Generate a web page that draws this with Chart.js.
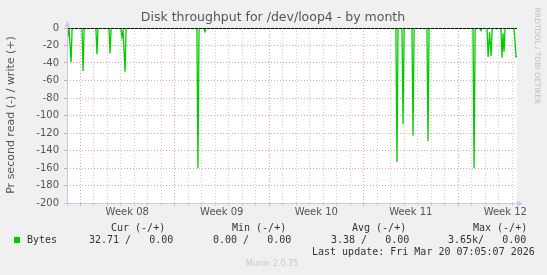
<!DOCTYPE HTML>
<html>
<head>
    <script src="https://cdn.jsdelivr.net/npm/chart.js"></script>
</head>
<body>
<style>
    * {
        margin: 0;
        padding: 0;
        box-sizing: border-box;
    }
    body {
        background: #F0F0F0;
    }
    .chart {
        width: 547px;
        height: 275px;
    }
</style>
<div class="chart">
    <canvas id="myChart" width="547" height="275"></canvas>
</div>
<script>
    // read rate (negative = read) sampled along the month, x in days from the left edge
    const sampleDays = [0, 0.07, 0.15, 0.30, 0.38, 1.11, 1.19, 1.27, 2.14, 2.22, 2.30, 3.11, 3.19, 3.27,
        3.99, 4.07, 4.15, 4.30, 4.38, 9.62, 9.70, 9.78, 10.14, 10.22, 10.30, 24.36, 24.44, 24.52,
        24.81, 24.89, 24.97, 25.55, 25.63, 25.71, 26.66, 26.74, 26.82, 30.07, 30.15, 30.23,
        30.59, 30.67, 30.75, 31.11, 31.19, 31.30, 31.41, 31.49, 31.77, 31.85, 31.93,
        32.14, 32.22, 32.30, 32.37, 32.45, 33.11, 33.26, 33.33];
    const readValues = [-3, -10, 0, -39, 0, 0, -49, 0, 0, -30, 0, 0, -29, 0,
        0, -10, -3, -50, 0, 0, -160, 0, 0, -4, 0, 0, -153, 0,
        0, -110, 0, 0, -123, 0, 0, -129, 0, 0, -160, 0,
        0, -3, 0, 0, -33, -5, -32, 0, 0, -1, 0,
        0, -34, -6, -27, 0, 0, -33, -32.71];
    const writeValues = sampleDays.map(() => 0);

    const weekLabels = ['Week 08', 'Week 09', 'Week 10', 'Week 11', 'Week 12'];
    const firstWeekStart = 0.963;   // day where Week 08 begins
    const monthSpan = 33.33;

    const statHeaders = ['Cur (-/+)', 'Min (-/+)', 'Avg (-/+)', 'Max (-/+)'];
    const statValues = ['32.71 /   0.00', '0.00 /   0.00', '3.38 /   0.00', '3.65k/   0.00'];

    const halfIndex = v => Math.round((v - firstWeekStart) * 2);

    const muninText = {
        id: 'muninText',
        beforeDraw(chart) {
            const {ctx, chartArea: a} = chart;
            ctx.save();
            ctx.fillStyle = '#FFFFFF';
            ctx.fillRect(a.left, a.top, a.right - a.left, a.bottom - a.top);
            ctx.restore();
        },
        afterDatasetsDraw(chart) {
            const {ctx, chartArea: a} = chart;
            const y0 = Math.round(chart.scales.y.getPixelForValue(0)) + 0.5;
            ctx.save();
            ctx.strokeStyle = '#000000';
            ctx.lineWidth = 1;
            ctx.setLineDash([3, 1]);
            ctx.beginPath();
            ctx.moveTo(a.left, y0);
            ctx.lineTo(a.right, y0);
            ctx.stroke();
            ctx.restore();
        },
        afterDraw(chart) {
            const {ctx, chartArea: a} = chart;
            ctx.save();
            // axes with arrows
            ctx.strokeStyle = '#C8C8F0';
            ctx.fillStyle = '#C8C8F0';
            ctx.lineWidth = 1;
            ctx.beginPath();
            ctx.moveTo(a.left + 0.5, a.bottom + 3);
            ctx.lineTo(a.left + 0.5, a.top - 4);
            ctx.moveTo(a.left - 3, a.bottom + 0.5);
            ctx.lineTo(a.right + 1, a.bottom + 0.5);
            ctx.stroke();
            ctx.beginPath();
            ctx.moveTo(a.left - 2.5, a.top - 1);
            ctx.lineTo(a.left + 3.5, a.top - 1);
            ctx.lineTo(a.left + 0.5, a.top - 7);
            ctx.fill();
            ctx.beginPath();
            ctx.moveTo(a.right, a.bottom - 2.5);
            ctx.lineTo(a.right, a.bottom + 3.5);
            ctx.lineTo(a.right + 6, a.bottom + 0.5);
            ctx.fill();

            // title
            ctx.fillStyle = '#555555';
            ctx.textAlign = 'center';
            ctx.textBaseline = 'middle';
            ctx.font = '12.5px "DejaVu Sans"';
            ctx.fillText('Disk throughput for /dev/loop4 - by month', 273, 18);

            // y axis title
            ctx.save();
            ctx.translate(11, 115);
            ctx.rotate(-Math.PI / 2);
            ctx.font = '11px "DejaVu Sans"';
            ctx.fillText('Pr second read (-) / write (+)', 0, 0);
            ctx.restore();

            // watermark
            ctx.save();
            ctx.translate(537, 56);
            ctx.rotate(Math.PI / 2);
            ctx.fillStyle = '#BEBEBE';
            ctx.font = '7.5px "DejaVu Sans"';
            ctx.fillText('RRDTOOL / TOBI OETIKER', 0, 0);
            ctx.restore();

            // legend
            ctx.textAlign = 'left';
            ctx.fillStyle = '#333333';
            ctx.font = '10px "DejaVu Sans Mono"';
            const headX = [111, 232, 352, 473];
            const valX = [89, 213, 331, 448];
            statHeaders.forEach((h, i) => ctx.fillText(h, headX[i], 228));
            statValues.forEach((v, i) => ctx.fillText(v, valX[i], 240));
            ctx.fillText('Bytes', 27, 240);
            ctx.fillText('Last update: Fri Mar 20 07:05:07 2026', 312, 252);
            ctx.fillStyle = '#00CC00';
            ctx.fillRect(14, 237, 6, 6);

            ctx.fillStyle = '#C8C8C8';
            ctx.textAlign = 'center';
            ctx.font = '8px "DejaVu Sans"';
            ctx.fillText('Munin 2.0.75', 272, 264);
            ctx.restore();
        }
    };

    const ctx = document.getElementById('myChart');
    new Chart(ctx, {
        type: 'line',
        data: {
            labels: sampleDays,
            datasets: [{
                label: 'Bytes read',
                data: sampleDays.map((d, i) => ({x: d, y: readValues[i]})),
                borderColor: '#00CC00',
                borderWidth: 1.3,
                pointRadius: 0,
                tension: 0,
                fill: false
            }, {
                label: 'Bytes write',
                data: sampleDays.map((d, i) => ({x: d, y: writeValues[i]})),
                borderColor: '#00CC00',
                borderWidth: 1,
                pointRadius: 0,
                tension: 0,
                fill: false
            }]
        },
        options: {
            responsive: false,
            animation: false,
            layout: {padding: {top: 28, right: 30, bottom: 0, left: 0}},
            plugins: {legend: {display: false}, tooltip: {enabled: false}},
            scales: {
                x: {
                    type: 'linear',
                    min: 0,
                    max: monthSpan,
                    afterFit: s => { s.height = 72; },
                    afterBuildTicks: s => {
                        const t = [];
                        for (let v = firstWeekStart; v <= monthSpan; v += 0.5) t.push({value: v});
                        s.ticks = t;
                    },
                    border: {display: false, dash: [1, 2]},
                    grid: {
                        color: c => {
                            const j = halfIndex(c.tick.value);
                            if (j % 14 === 0) return '#E8A0A0';
                            return j % 2 === 0 ? '#D0D0D0' : 'rgba(0,0,0,0)';
                        },
                        tickColor: c => {
                            const j = halfIndex(c.tick.value);
                            if (j % 14 === 0) return '#E8A0A0';
                            return j % 2 === 0 ? '#D0D0D0' : 'rgba(0,0,0,0)';
                        },
                        tickLength: 3
                    },
                    ticks: {
                        autoSkip: false,
                        maxRotation: 0,
                        padding: 0,
                        color: '#555555',
                        font: {family: 'DejaVu Sans', size: 10},
                        callback: v => {
                            const j = halfIndex(v);
                            return j % 14 === 7 ? weekLabels[Math.floor(j / 14)] : '';
                        }
                    }
                },
                y: {
                    min: -200,
                    max: 0,
                    afterFit: s => { s.width = 67; },
                    border: {display: false, dash: [1, 2]},
                    grid: {
                        color: c => (c.tick.value % 20 === 0 ? '#E8A0A0' : '#D0D0D0'),
                        tickColor: c => (c.tick.value % 20 === 0 ? '#E8A0A0' : '#D0D0D0'),
                        tickLength: 3
                    },
                    ticks: {
                        stepSize: 10,
                        padding: 5,
                        color: '#555555',
                        font: {family: 'DejaVu Sans', size: 10},
                        callback: v => (v % 20 === 0 ? v : '')
                    }
                }
            }
        },
        plugins: [muninText]
    });
</script>
</body>
</html>
